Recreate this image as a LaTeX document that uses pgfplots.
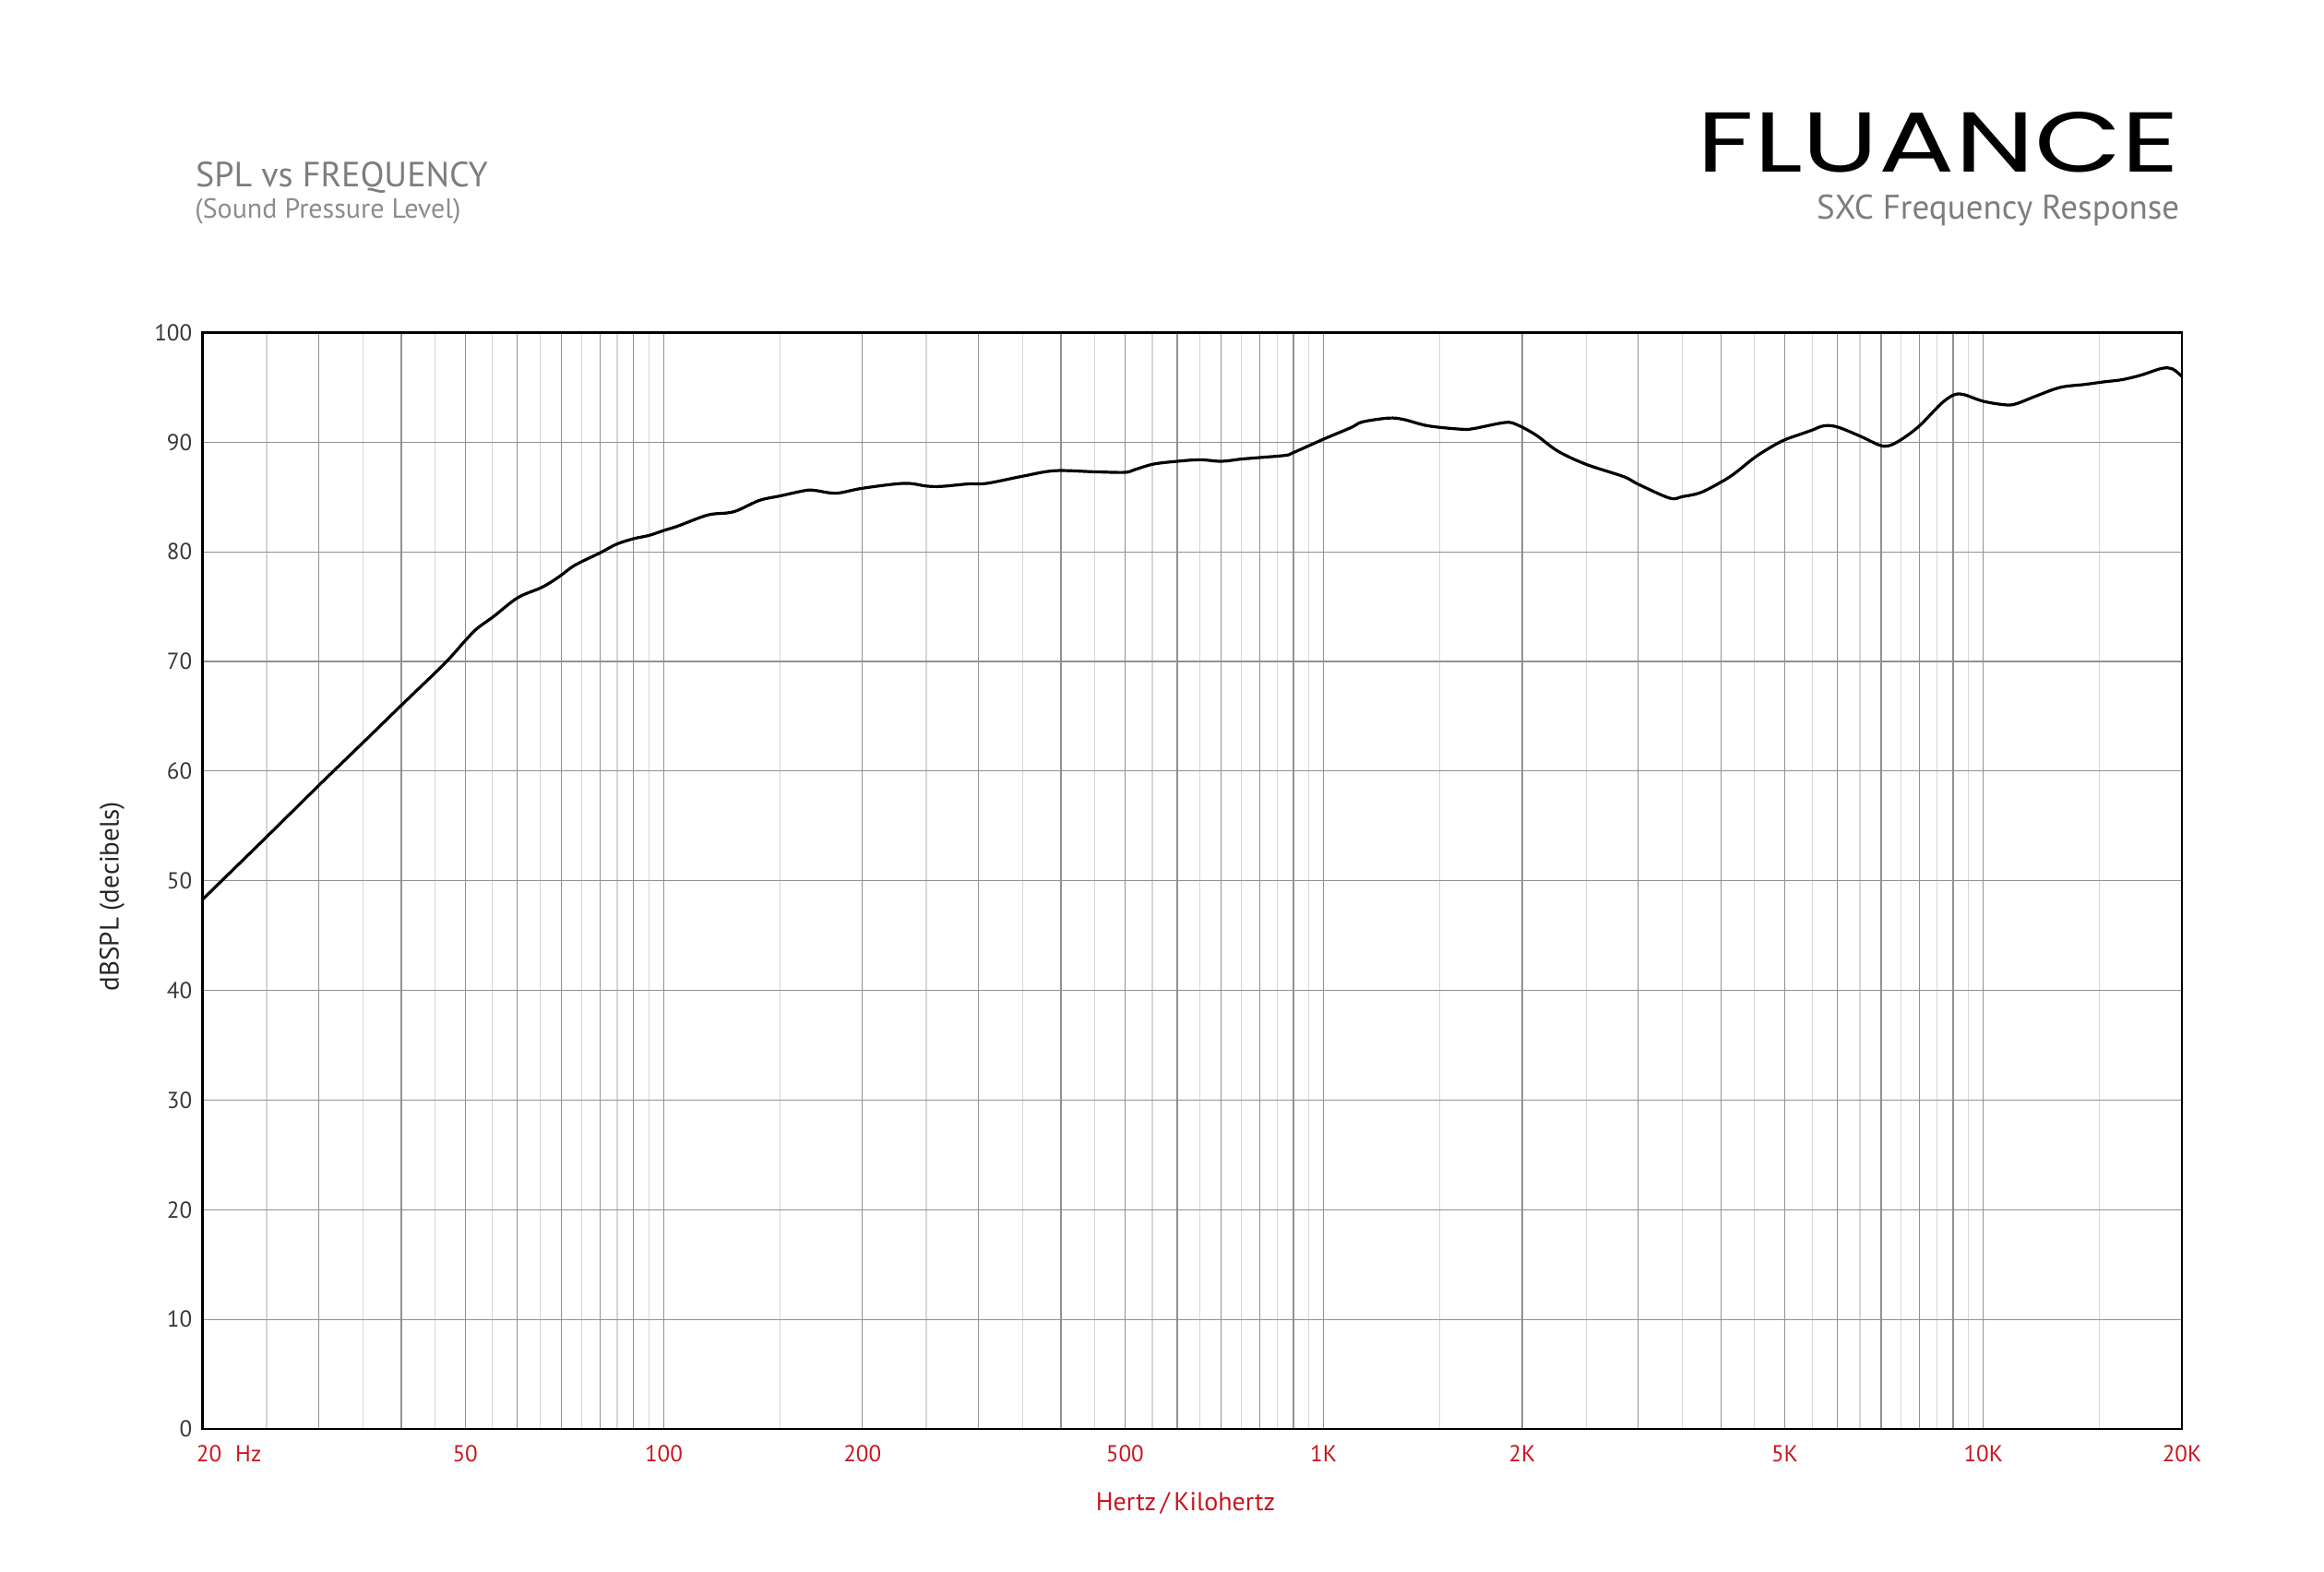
\documentclass[border=0pt]{standalone}
\usepackage{fontspec}
\setmainfont{PT Sans}
\newfontfamily\logofont{Poppins}
\usepackage{pgfplots}
\pgfplotsset{compat=1.18}

\definecolor{tickred}{RGB}{200,22,32}
\definecolor{titlegray}{RGB}{125,125,125}
\definecolor{subgray}{RGB}{140,140,140}
\definecolor{griddark}{RGB}{145,145,145}
\definecolor{gridlight}{RGB}{214,214,214}

% SPL in dB, frequency in Hz
\pgfplotstableread{
f      spl
20     48.3
25     54.0
30     58.7
35     62.6
40     66.0
46.5   69.8
50     71.9
52.1   73.0
55.2   74.1
60     75.8
65     76.7
67.7   77.3
70     77.9
73.4   78.8
80     79.9
84.8   80.7
90     81.2
95     81.5
100    81.95
105    82.35
116.4  83.35
124.8  83.55
129.6  83.8
139.7  84.7
150    85.1
164    85.6
169.5  85.6
182.6  85.35
200    85.8
231.4  86.25
250    86.0
263.4  85.97
289.9  86.2
309    86.25
350    86.9
391.3  87.4
450    87.3
500    87.25
517.5  87.5
551.9  88.0
600    88.26
650    88.4
700    88.26
750    88.46
800    88.6
875    88.8
900    89.05
1000   90.28
1102   91.35
1145   91.85
1254   92.2
1323   92.07
1441   91.49
1623   91.18
1694   91.26
1886   91.8
1968   91.57
2099   90.65
2263   89.2
2500   87.98
2850   86.86
3000   86.16
3347   84.9
3500   85.04
3726   85.4
4000   86.35
4194   87.14
4500   88.6
4778   89.6
5000   90.22
5264   90.7
5500   91.1
5727   91.49
6000   91.4
6500   90.56
6946   89.75
7174   89.66
7500   90.22
8000   91.49
8608   93.45
9000   94.29
9330   94.35
10000  93.73
10840  93.4
11260  93.54
12006  94.2
13080  95.0
14255  95.27
15205  95.5
16215  95.7
17297  96.1
18641  96.73
19355  96.68
20000  95.98
}\spldata

\begin{document}
\begin{tikzpicture}
\path[use as bounding box] (0pt,0pt) rectangle (1259.5pt,851.5pt);

\begin{axis}[
    at={(109.8pt,77pt)}, anchor=south west,
    scale only axis,
    width=1072.7pt, height=594.25pt,
    xmode=log,
    xmin=20, xmax=20000,
    ymin=0, ymax=100,
    ytick={0,10,...,100},
    xtick={20,30,40,50,60,70,80,90,100,200,300,400,500,600,700,800,900,1000,2000,3000,4000,5000,6000,7000,8000,9000,10000,20000},
    xticklabels={{\hspace*{7pt}20\rlap{\hspace{0.6em}Hz}},{},{},50,{},{},{},{},100,200,{},{},500,{},{},{},{},1K,2K,{},{},5K,{},{},{},{},10K,20K},
    minor xtick={25,35,45,55,65,75,85,95,150,250,350,450,550,650,750,850,950,1500,2500,3500,4500,5500,6500,7500,8500,9500,15000},
    xmajorgrids=true, xminorgrids=true, ymajorgrids=true,
    major grid style={griddark, line width=0.6pt},
    minor grid style={gridlight, line width=0.6pt},
    major tick length=0pt, minor tick length=0pt,
    axis line style={black, line width=1.4pt},
    tick label style={font=\fontsize{12.5}{14}\selectfont},
    xticklabel style={text=tickred, anchor=base, yshift=-17.5pt, inner sep=0pt},
    yticklabel style={text=black!78, anchor=east, xshift=-5.5pt, inner sep=0pt},
    /pgf/number format/assume math mode=true,
]
\addplot[black, line width=1.6pt, smooth, tension=0.55] table[x=f, y=spl] {\spldata};
\end{axis}

\node[anchor=base west, inner sep=0pt, text=titlegray, font=\fontsize{19}{21}\selectfont] at (105.9pt,750.2pt) {SPL vs FREQUENCY};
\node[anchor=base west, inner sep=0pt, text=subgray, font=\fontsize{15}{17}\selectfont] at (105.5pt,733.2pt) {(Sound Pressure Level)};
\node[anchor=south east, inner sep=0pt] at (1181.3pt,757.5pt) {\resizebox{261.3pt}{32.5pt}{\logofont FLUANCE}};
\node[anchor=base east, inner sep=0pt, text=titlegray, font=\fontsize{18.5}{19}\selectfont] at (1181.3pt,732.8pt) {SXC Frequency Response};

\node[text=tickred, font=\fontsize{14}{15}\selectfont] at (642.5pt,37pt) {Hertz\,/\,Kilohertz};
\node[rotate=90, text=black!85, font=\fontsize{14.5}{16}\selectfont] at (60.75pt,365.75pt) {dBSPL (decibels)};
\end{tikzpicture}
\end{document}
